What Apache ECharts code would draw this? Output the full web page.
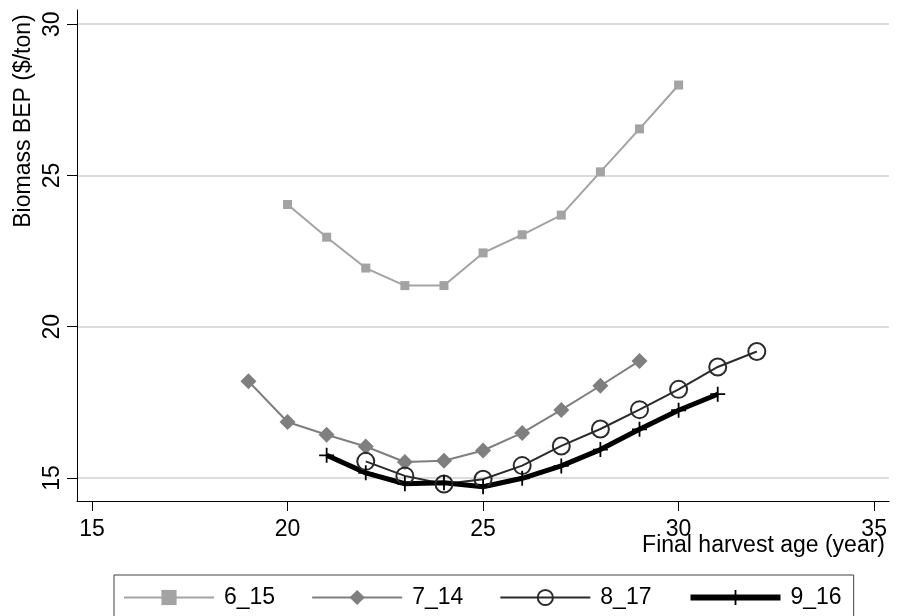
<!DOCTYPE html>
<html>
<head>
<meta charset="utf-8">
<script src="https://cdn.jsdelivr.net/npm/echarts@6/dist/echarts.min.js"></script>
<style>
  html, body { margin: 0; padding: 0; background: #fff; }
  #chart { width: 897px; height: 616px; }
</style>
</head>
<body>
<div id="chart"></div>
<script>
(function() {
  var font = '"Liberation Sans", Arial, sans-serif';

  // harvest ages (x) and break-even prices (y) per scenario
  var age6_15 = [20, 21, 22, 23, 24, 25, 26, 27, 28, 29, 30];
  var bep6_15 = [24.04, 22.96, 21.94, 21.36, 21.36, 22.44, 23.04, 23.69, 25.12, 26.54, 27.99];

  var age7_14 = [19, 20, 21, 22, 23, 24, 25, 26, 27, 28, 29];
  var bep7_14 = [18.2, 16.85, 16.43, 16.04, 15.53, 15.57, 15.91, 16.49, 17.25, 18.05, 18.87];

  var age8_17 = [22, 23, 24, 25, 26, 27, 28, 29, 30, 31, 32];
  var bep8_17 = [15.55, 15.07, 14.8, 14.96, 15.41, 16.06, 16.62, 17.26, 17.93, 18.67, 19.18];

  var age9_16 = [21, 22, 23, 24, 25, 26, 27, 28, 29, 30, 31];
  var bep9_16 = [15.75, 15.17, 14.81, 14.84, 14.71, 14.99, 15.4, 15.94, 16.61, 17.24, 17.77];

  var xTicks = [15, 20, 25, 30, 35];
  var yTicks = [15, 20, 25, 30];

  function pairs(xs, ys) {
    return xs.map(function(x, i) { return [x, ys[i]]; });
  }

  var plusPath = 'path://M-0.12,-1H0.12V-0.12H1V0.12H0.12V1H-0.12V0.12H-1V-0.12H-0.12Z';

  var chart = echarts.init(document.getElementById('chart'), null, { renderer: 'canvas' });
  chart.setOption({
    animation: false,
    backgroundColor: '#fff',
    textStyle: { fontFamily: font },
    grid: { left: 77, right: 8, top: 10, bottom: 115, containLabel: false },
    xAxis: {
      type: 'value',
      min: 14.616,
      max: 35.38,
      axisLine: { lineStyle: { color: '#000', width: 1 } },
      axisTick: { show: true, length: 10, customValues: xTicks, lineStyle: { color: '#000' } },
      axisLabel: { customValues: xTicks, color: '#000', fontSize: 23, margin: 17, fontFamily: font },
      splitLine: { show: false }
    },
    yAxis: {
      type: 'value',
      min: 14.24,
      max: 30.47,
      axisLine: { show: true, lineStyle: { color: '#000', width: 1 } },
      axisTick: { show: true, length: 10, customValues: yTicks, lineStyle: { color: '#000' } },
      axisLabel: { customValues: yTicks, color: '#000', fontSize: 23, margin: 13, rotate: 90, fontFamily: font },
      splitLine: { show: true, lineStyle: { color: '#d0d0d0', width: 1.5 } }
    },
    legend: {
      left: 114,
      top: 575,
      orient: 'horizontal',
      itemWidth: 90,
      itemHeight: 19,
      itemGap: 36,
      padding: [11, 12, 40, 9],
      borderColor: '#404040',
      borderWidth: 1,
      textStyle: { color: '#000', fontSize: 23, fontFamily: font, padding: [0, 0, 0, 5] },
      data: [
        { name: '6_15', lineStyle: { width: 2 } },
        { name: '7_14', lineStyle: { width: 2 } },
        { name: '8_17', lineStyle: { width: 2 } },
        { name: '9_16', lineStyle: { width: 6 } }
      ]
    },
    graphic: [
      {
        type: 'text',
        right: 12,
        top: 534,
        style: { text: 'Final harvest age (year)', fill: '#000', font: '23px ' + font }
      },
      {
        type: 'text',
        x: 24,
        y: 121,
        rotation: Math.PI / 2,
        style: {
          text: 'Biomass BEP ($/ton)', fill: '#000', font: '23px ' + font,
          align: 'center', verticalAlign: 'middle'
        }
      }
    ],
    series: [
      {
        name: '6_15',
        type: 'line',
        data: pairs(age6_15, bep6_15),
        symbol: 'rect',
        symbolSize: 9,
        lineStyle: { color: '#a3a3a3', width: 2 },
        itemStyle: { color: '#a3a3a3' }
      },
      {
        name: '7_14',
        type: 'line',
        data: pairs(age7_14, bep7_14),
        symbol: 'diamond',
        symbolSize: 16,
        lineStyle: { color: '#7f7f7f', width: 2 },
        itemStyle: { color: '#7f7f7f' }
      },
      {
        name: '8_17',
        type: 'line',
        data: pairs(age8_17, bep8_17),
        symbol: 'circle',
        symbolSize: 17,
        lineStyle: { color: '#2b2b2b', width: 2 },
        itemStyle: { color: 'rgba(255,255,255,0)', borderColor: '#2b2b2b', borderWidth: 2 }
      },
      {
        name: '9_16',
        type: 'line',
        data: pairs(age9_16, bep9_16),
        symbol: plusPath,
        symbolSize: 15,
        lineStyle: { color: '#000', width: 5 },
        itemStyle: { color: '#000' }
      }
    ]
  });
  window.addEventListener('resize', function() { chart.resize(); });
})();
</script>
</body>
</html>
